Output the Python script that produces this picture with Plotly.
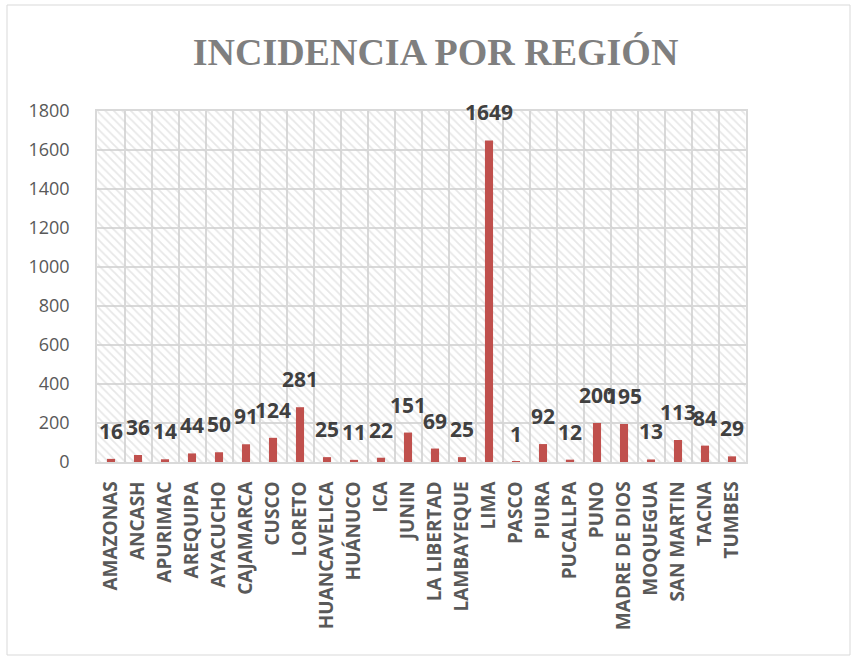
import plotly.graph_objects as go

regions = ["AMAZONAS", "ANCASH", "APURIMAC", "AREQUIPA", "AYACUCHO", "CAJAMARCA",
           "CUSCO", "LORETO", "HUANCAVELICA", "HUÁNUCO", "ICA", "JUNIN",
           "LA LIBERTAD", "LAMBAYEQUE", "LIMA", "PASCO", "PIURA", "PUCALLPA",
           "PUNO", "MADRE DE DIOS", "MOQUEGUA", "SAN MARTIN", "TACNA", "TUMBES"]
values = [16, 36, 14, 44, 50, 91, 124, 281, 25, 11, 22, 151, 69, 25, 1649, 1,
          92, 12, 200, 195, 13, 113, 84, 29]
y_max = 1800
y_step = 200

fig = go.Figure()

# hatched background in every category slot
fig.add_trace(go.Bar(
    x=regions, y=[y_max] * len(regions), width=1,
    marker=dict(color="rgba(0,0,0,0)", line=dict(width=0),
                pattern=dict(shape="\\", fgcolor="#D0D0D0", size=6,
                             solidity=0.3, fillmode="overlay")),
    hoverinfo="skip", showlegend=False,
))

fig.add_trace(go.Bar(
    x=regions, y=values, width=0.3,
    marker=dict(color="#C0504D", line=dict(width=0)),
    showlegend=False,
))

W, H = 854, 659
L, R, T, B = 97, 108, 111, 197
pw, ph = W - L - R, H - T - B

annotations = [dict(x=r, y=v, xref="x", yref="y", text=f"<b>{v}</b>",
                    showarrow=False, yanchor="bottom", yshift=12,
                    font=dict(family="Open Sans", size=21, color="#404040"))
               for r, v in zip(regions, values)]

fig.update_layout(
    width=W, height=H,
    margin=dict(l=L, r=R, t=T, b=B),
    paper_bgcolor="white", plot_bgcolor="white",
    title=dict(text="<b>INCIDENCIA POR REGIÓN</b>", x=0.51, xanchor="center",
               y=0.921, yanchor="middle",
               font=dict(family="Liberation Serif", size=38, color="#7F7F7F")),
    xaxis=dict(type="category", tickson="boundaries", showgrid=True,
               gridcolor="#D9D9D9", gridwidth=1.5, showline=True,
               linecolor="#D9D9D9", linewidth=1.5, ticks="", tickangle=-90,
               ticklabelstandoff=10,
               tickfont=dict(family="Open Sans", size=19, color="#595959",
                             weight="bold"), mirror=True),
    yaxis=dict(range=[0, y_max], dtick=y_step, showgrid=True,
               gridcolor="#D9D9D9", gridwidth=1.5, zeroline=False,
               ticks="", ticklabelstandoff=22,
               tickfont=dict(family="Open Sans", size=18, color="#595959"),
               showline=True, linecolor="#D9D9D9", linewidth=1.5, mirror=True),
    barmode="overlay",
    annotations=annotations,
    shapes=[dict(type="rect", xref="paper", yref="paper",
                 x0=(7 - L) / pw, x1=(850 - L) / pw,
                 y0=-(655 - (T + ph)) / ph, y1=1 + (T - 5) / ph,
                 line=dict(color="#D9D9D9", width=1), fillcolor="rgba(0,0,0,0)")],
)

fig.write_html("out.html", config={"displayModeBar": False},
               post_script="document.body.style.margin='0';document.body.style.padding='0';")
